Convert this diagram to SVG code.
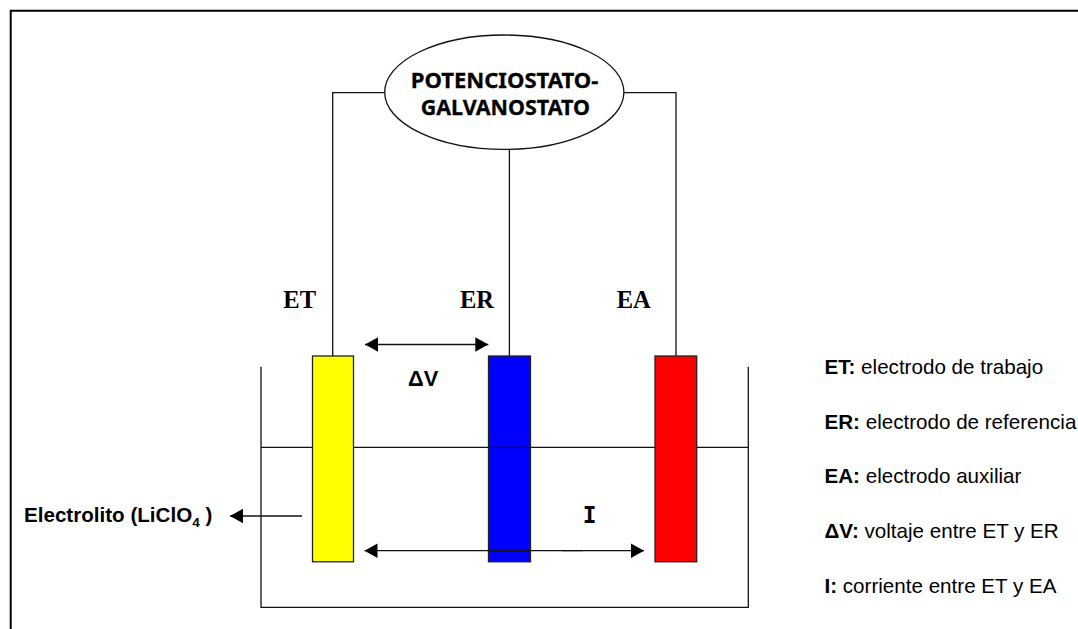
<svg xmlns="http://www.w3.org/2000/svg" width="1078" height="629" viewBox="0 0 1078 629">
<style>
.l{fill:none;stroke:#111;stroke-width:1.300}
.e{stroke:#222;stroke-width:1.300}
.s{font-family:"Liberation Sans",Arial,sans-serif;font-size:20.600px;fill:#000}
.b{font-weight:bold}
.t{font-family:"Liberation Serif","Times New Roman",serif;font-size:24.500px;font-weight:bold;fill:#000}
.h{font-family:"Noto Sans","DejaVu Sans",sans-serif;font-size:22px;font-weight:bold;fill:#000;stroke:#000;stroke-width:0.300}
</style>
<defs>
<marker id="a" markerUnits="userSpaceOnUse" markerWidth="14" markerHeight="16" refX="13" refY="7.500" orient="auto-start-reverse"><path d="M0 0.300L13 7.500L0 14.700Z" fill="#000"/></marker>
</defs>
<rect width="1078" height="629" fill="#fff"/>
<path d="M10.700 629V10.700H1078" fill="none" stroke="#000" stroke-width="2"/>
<g id="connectors">
<path class="l" d="M385 92.700H332.700V356"/>
<path class="l" d="M624 92.700H676V356"/>
<path class="l" d="M509.400 149.300V356"/>
<path class="l" d="M261 366.700V607.300H748.300V366.700"/>
<path class="l" d="M261 447.400H748.300"/>
<path class="l" marker-end="url(#a)" d="M302 516H230"/>
</g>
<g id="yellow-electrode"><rect class="e" x="312.500" y="356" width="41" height="205.800" fill="#ff0"/></g>
<g id="blue-electrode"><rect class="e" x="488.500" y="356" width="42" height="205.800" fill="#00f"/></g>
<g id="red-electrode"><rect class="e" x="655" y="356" width="41.700" height="205.800" fill="#f00"/></g>
<g id="connectors-front">
<path class="l" d="M488.500 447.400H530.500"/>
<path class="l" stroke-width="1.600" marker-start="url(#a)" marker-end="url(#a)" d="M365 344.500H488.300"/>
<path class="l" marker-start="url(#a)" marker-end="url(#a)" d="M364.500 550.700H644"/>
<path d="M562 551.500H583" stroke="#999" stroke-width="1" fill="none"/>
</g>
<g id="potenciostato">
<ellipse cx="504.300" cy="92.200" rx="119.600" ry="57.200" fill="#fff" stroke="#111" stroke-width="1.300"/>
<text class="h" x="410.700" y="88" textLength="187.600" lengthAdjust="spacingAndGlyphs">POTENCIOSTATO-</text>
<text class="h" x="420.700" y="115" textLength="169.300" lengthAdjust="spacingAndGlyphs">GALVANOSTATO</text>
</g>
<g id="labels">
<text class="t" x="283.300" y="308.300">ET</text>
<text class="t" x="460" y="308.300">ER</text>
<text class="t" x="616.700" y="308.300">EA</text>
<text class="s b" x="408" y="385.700" style="font-size:21.800px">ΔV</text>
<text x="589.600" y="522.700" text-anchor="middle" font-family="'DejaVu Sans Mono',monospace" font-weight="bold" font-size="22.800">I</text>
<text class="s b" x="24" y="521.700">Electrolito (LiClO<tspan font-size="13.500" dy="5">4</tspan><tspan dy="-5"> )</tspan></text>
</g>
<g id="legend">
<text class="s" x="824.500" y="373.500"><tspan class="b">ET:</tspan> electrodo de trabajo</text>
<text class="s" x="824.500" y="428.500"><tspan class="b">ER:</tspan> electrodo de referencia</text>
<text class="s" x="824.500" y="483"><tspan class="b">EA:</tspan> electrodo auxiliar</text>
<text class="s" x="824.500" y="538"><tspan class="b">ΔV:</tspan> voltaje entre ET y ER</text>
<text class="s" x="824.500" y="593"><tspan class="b">I:</tspan> corriente entre ET y EA</text>
</g>
</svg>
